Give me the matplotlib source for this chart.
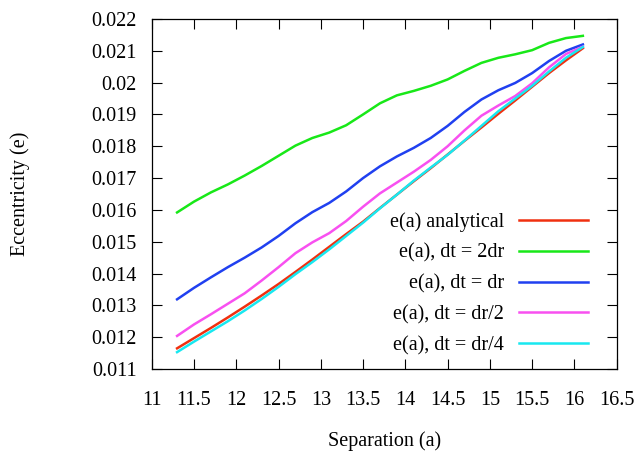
import matplotlib
matplotlib.use("Agg")
import matplotlib.pyplot as plt
from matplotlib.ticker import FuncFormatter, MultipleLocator

plt.rcParams['font.family'] = ['Liberation Serif', 'DejaVu Serif']

sep = [11.3, 11.5, 11.7, 11.9, 12.1, 12.3, 12.5, 12.7, 12.9, 13.1, 13.3, 13.5, 13.7,
       13.9, 14.1, 14.3, 14.5, 14.7, 14.9, 15.1, 15.3, 15.5, 15.7, 15.9, 16.1]

ecc_analytical = [0.01165, 0.01197, 0.01229, 0.01262, 0.01296, 0.01331, 0.01367, 0.01405,
                  0.01444, 0.01484, 0.01524, 0.01563, 0.01606, 0.01648, 0.01690, 0.01731,
                  0.01774, 0.01817, 0.01859, 0.01902, 0.01944, 0.01987, 0.02030, 0.02070, 0.02108]
ecc_2dr = [0.01592, 0.01626, 0.01655, 0.01680, 0.01708, 0.01738, 0.01770, 0.01802,
           0.01826, 0.01843, 0.01866, 0.01900, 0.01935, 0.01960, 0.01974, 0.01990,
           0.02010, 0.02037, 0.02062, 0.02078, 0.02089, 0.02102, 0.02125, 0.02140, 0.02147]
ecc_dr = [0.01319, 0.01355, 0.01388, 0.01420, 0.01450, 0.01482, 0.01518, 0.01558,
          0.01593, 0.01622, 0.01658, 0.01700, 0.01737, 0.01768, 0.01795, 0.01826,
          0.01864, 0.01908, 0.01947, 0.01976, 0.01999, 0.02030, 0.02068, 0.02100, 0.02120]
ecc_dr2 = [0.01204, 0.01240, 0.01272, 0.01305, 0.01338, 0.01378, 0.01420, 0.01464,
           0.01498, 0.01527, 0.01565, 0.01610, 0.01652, 0.01686, 0.01720, 0.01757,
           0.01800, 0.01850, 0.01896, 0.01928, 0.01958, 0.01998, 0.02048, 0.02090, 0.02113]
ecc_dr4 = [0.01153, 0.01186, 0.01218, 0.01250, 0.01284, 0.01320, 0.01358, 0.01398,
           0.01436, 0.01476, 0.01518, 0.01560, 0.01605, 0.01648, 0.01692, 0.01733,
           0.01773, 0.01818, 0.01864, 0.01910, 0.01950, 0.01990, 0.02035, 0.02078, 0.02112]

labels = ["e(a) analytical", "e(a), dt = 2dr", "e(a), dt = dr", "e(a), dt = dr/2", "e(a), dt = dr/4"]
colors = ['#f03010', '#18e818', '#2040f0', '#f850f0', '#18e8f0']

fig = plt.figure(figsize=(6.38, 4.53), dpi=100)
ax = fig.add_axes([0.2378, 0.1854, 0.7288, 0.7727])

series = [ecc_analytical, ecc_2dr, ecc_dr, ecc_dr2, ecc_dr4]
for ys, lab, c in zip(series, labels, colors):
    ax.plot(sep, ys, color=c, lw=1.8, label=lab)

ax.set_xlim(11, 16.5)
ax.set_ylim(0.011, 0.022)
ax.xaxis.set_major_locator(MultipleLocator(0.5))
ax.yaxis.set_major_locator(MultipleLocator(0.001))
fmt = FuncFormatter(lambda v, p: "%g" % round(v, 4))
ax.xaxis.set_major_formatter(fmt)
ax.yaxis.set_major_formatter(fmt)
ax.tick_params(direction='in', length=7, width=0.8, top=True, right=True, labelsize=14.5)
ax.tick_params(axis='x', pad=16)
ax.tick_params(axis='y', pad=11)
for s in ax.spines.values():
    s.set_linewidth(0.9)

ax.set_xlabel("Separation (a)", fontsize=14.5)
ax.set_ylabel("Eccentricity (e)", fontsize=14.5)
ax.xaxis.set_label_coords(0.5, -0.177)
ax.yaxis.set_label_coords(-0.262, 0.5)

ax.legend(loc='lower right', bbox_to_anchor=(0.938, 0.04), frameon=False, markerfirst=False,
          fontsize=14.5, handlelength=3.4, labelspacing=0.57, handletextpad=0.75,
          borderpad=0, borderaxespad=0)

fig.savefig("out.png", dpi=100)
